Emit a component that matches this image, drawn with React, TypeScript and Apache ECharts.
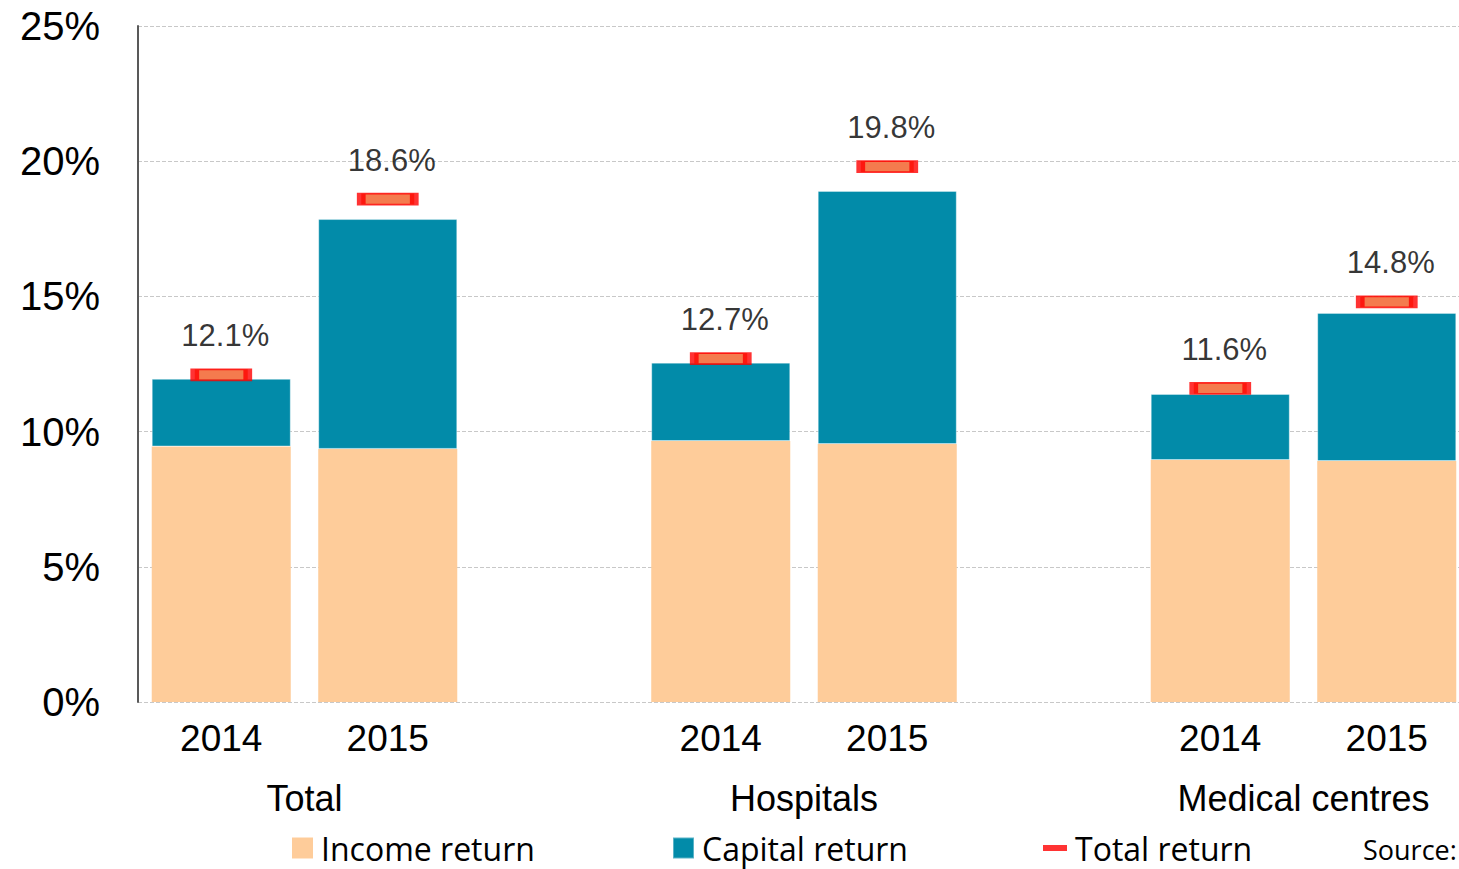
import React, { useEffect, useRef } from "react";
import * as echarts from "echarts";

const categories = ["2014", "2015", "", "2014", "2015", "", "2014", "2015"];
const incomeReturn = [9.45, 9.36, null, 9.65, 9.54, null, 8.95, 8.91];
const capitalReturn = [2.5, 8.5, null, 2.9, 9.36, null, 2.44, 5.48];
const totalReturn = [12.1, 18.6, null, 12.7, 19.8, null, 11.6, 14.8];
const groupNames: Record<number, string> = { 1: "Total", 4: "Hospitals", 7: "Medical centres" };
const yTicks = [0, 5, 10, 15, 20, 25];

const numFont = "'Liberation Sans', Arial, sans-serif";
const legFont = "'Open Sans', 'Noto Sans', sans-serif";

export default function App() {
  const ref = useRef<HTMLDivElement>(null);
  useEffect(() => {
    document.body.style.margin = "0";
    const chart = echarts.init(ref.current!, null, { renderer: "svg" });
    const legendBase = {
      top: 832,
      padding: 0,
      itemGap: 0,
      textStyle: { fontSize: 32, fontFamily: legFont, color: "#000", padding: [0, 0, 0, 3] },
    };
    chart.setOption({
      animation: false,
      grid: { left: 138, top: 26, width: 1332, height: 676 },
      xAxis: [
        {
          type: "category",
          data: categories,
          axisLine: { show: false },
          axisTick: { show: false },
          axisLabel: { color: "#000", fontSize: 37, fontFamily: numFont, margin: 18 },
        },
        {
          type: "value",
          min: 0,
          max: 8,
          interval: 1,
          position: "bottom",
          axisLine: { show: false },
          axisTick: { show: false },
          splitLine: { show: false },
          axisLabel: {
            color: "#000",
            fontSize: 36,
            fontFamily: numFont,
            margin: 78,
            showMinLabel: false,
            showMaxLabel: false,
            formatter: (v: number) => groupNames[v] || "",
          },
        },
      ],
      yAxis: {
        type: "value",
        min: yTicks[0],
        max: yTicks[yTicks.length - 1],
        interval: 5,
        axisLine: { show: true, lineStyle: { color: "#595959", width: 2 } },
        axisTick: { show: false },
        splitLine: { lineStyle: { color: "#C8C8C8", type: "dashed", width: 1 } },
        axisLabel: { color: "#000", fontSize: 40, fontFamily: numFont, margin: 38, formatter: "{value}%" },
      },
      legend: [
        {
          ...legendBase,
          left: 292,
          itemWidth: 21,
          itemHeight: 21,
          icon: "rect",
          data: ["Income return"],
        },
        {
          ...legendBase,
          left: 672,
          itemWidth: 21,
          itemHeight: 21,
          icon: "rect",
          data: ["Capital return"],
        },
        {
          ...legendBase,
          left: 1043,
          itemWidth: 24,
          itemHeight: 6,
          data: [{ name: "Total return", icon: "rect", itemStyle: { color: "#FF0000", borderWidth: 0 } }],
        },
      ],
      graphic: [
        {
          type: "text",
          left: 1363,
          top: 836,
          style: { text: "Source:", fontSize: 27, fontFamily: legFont, fill: "#000" },
        },
      ],
      series: [
        {
          name: "Income return",
          type: "bar",
          stack: "r",
          xAxisIndex: 0,
          barWidth: "83.5%",
          itemStyle: { color: "#FECC9A" },
          data: incomeReturn,
        },
        {
          name: "Capital return",
          type: "bar",
          stack: "r",
          xAxisIndex: 0,
          barWidth: "83.5%",
          itemStyle: { color: "#028BA9", borderColor: "rgba(255,255,255,0.35)", borderWidth: 1 },
          data: capitalReturn,
        },
        {
          name: "Total return",
          type: "scatter",
          xAxisIndex: 0,
          symbol: "rect",
          symbolSize: [53, 11],
          z: 5,
          itemStyle: { color: "#F15A22", borderColor: "#FF0000", borderWidth: 4 },
          label: {
            show: true,
            position: "top",
            distance: 17,
            offset: [4, 0],
            color: "#000",
            fontSize: 31,
            fontFamily: numFont,
            formatter: (p: any) => p.value.toFixed(1) + "%",
          },
          data: totalReturn,
        },
      ],
    });
    return () => chart.dispose();
  }, []);
  return (
    <div style={{ width: 1459, height: 869, overflow: "hidden", position: "relative" }}>
      <div ref={ref} style={{ width: 1480, height: 869 }} />
    </div>
  );
}
